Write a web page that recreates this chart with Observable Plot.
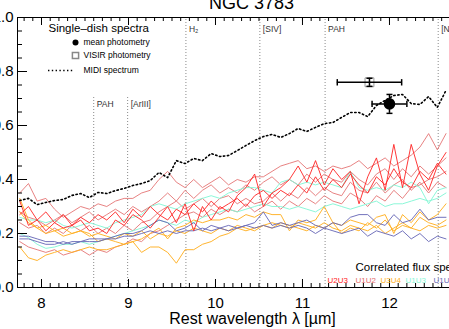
<!DOCTYPE html>
<html><head><meta charset="utf-8">
<script src="https://cdn.jsdelivr.net/npm/d3@7"></script>
<script src="https://cdn.jsdelivr.net/npm/@observablehq/plot@0.6"></script>
<style>html,body{margin:0;padding:0;background:#fff;overflow:hidden}</style>
</head><body><div id="chart"></div>
<script>
// ---- data ----
const wl = [7.75,7.85,7.95,8.05,8.15,8.25,8.35,8.45,8.55,8.65,8.75,8.85,8.95,9.05,9.15,9.25,9.35,9.45,9.55,9.65,9.75,9.85,9.95,10.05,10.15,10.25,10.35,10.45,10.55,10.65,10.75,10.85,10.95,11.05,11.15,11.25,11.35,11.45,11.55,11.65,11.75,11.85,11.95,12.05,12.15,12.25,12.35,12.45,12.55,12.65];

const midi = [0.322,0.330,0.307,0.315,0.322,0.326,0.341,0.348,0.333,0.352,0.348,0.359,0.367,0.378,0.385,0.396,0.426,0.407,0.470,0.459,0.478,0.470,0.496,0.485,0.489,0.507,0.526,0.544,0.559,0.567,0.556,0.570,0.589,0.578,0.593,0.607,0.611,0.630,0.648,0.648,0.633,0.674,0.693,0.711,0.715,0.681,0.678,0.707,0.667,0.730];

const u2u3_a = [0.32,0.23,0.25,0.21,0.24,0.22,0.23,0.25,0.21,0.22,0.20,0.25,0.23,0.27,0.25,0.22,0.26,0.30,0.24,0.31,0.21,0.30,0.25,0.30,0.28,0.34,0.37,0.42,0.30,0.35,0.37,0.40,0.45,0.39,0.47,0.38,0.44,0.40,0.43,0.31,0.41,0.48,0.36,0.53,0.37,0.53,0.42,0.36,0.45,0.50];
const u2u3_b = [0.27,0.30,0.25,0.28,0.24,0.27,0.23,0.26,0.24,0.27,0.25,0.28,0.24,0.29,0.26,0.30,0.27,0.25,0.29,0.27,0.31,0.28,0.32,0.29,0.31,0.33,0.30,0.34,0.36,0.33,0.36,0.34,0.38,0.35,0.41,0.36,0.40,0.37,0.42,0.38,0.35,0.41,0.38,0.44,0.39,0.37,0.43,0.40,0.46,0.42];

const u1u2_a = [0.35,0.385,0.32,0.33,0.29,0.26,0.28,0.30,0.29,0.31,0.30,0.32,0.33,0.33,0.35,0.36,0.40,0.43,0.39,0.37,0.40,0.37,0.39,0.41,0.38,0.40,0.39,0.41,0.41,0.43,0.45,0.46,0.47,0.44,0.45,0.43,0.45,0.44,0.45,0.47,0.44,0.46,0.48,0.45,0.47,0.49,0.52,0.57,0.51,0.57];
const u1u2_b = [0.28,0.26,0.25,0.23,0.25,0.27,0.24,0.26,0.28,0.25,0.27,0.29,0.27,0.30,0.28,0.30,0.32,0.35,0.32,0.36,0.33,0.36,0.38,0.35,0.37,0.35,0.38,0.36,0.39,0.41,0.38,0.40,0.38,0.42,0.39,0.42,0.40,0.39,0.43,0.40,0.38,0.42,0.44,0.40,0.44,0.41,0.45,0.42,0.45,0.48];
const u1u2_c = [0.24,0.22,0.23,0.20,0.22,0.20,0.23,0.21,0.23,0.20,0.22,0.20,0.23,0.21,0.24,0.25,0.28,0.30,0.32,0.29,0.31,0.33,0.30,0.33,0.34,0.31,0.33,0.31,0.32,0.35,0.32,0.35,0.33,0.37,0.34,0.37,0.35,0.34,0.39,0.36,0.35,0.39,0.35,0.38,0.40,0.36,0.39,0.35,0.39,0.37];
const u1u2_d = [0.17,0.15,0.14,0.13,0.14,0.12,0.13,0.14,0.12,0.14,0.13,0.15,0.16,0.18,0.17,0.20,0.21,0.23,0.25,0.27,0.28,0.26,0.29,0.27,0.29,0.28,0.31,0.28,0.30,0.32,0.29,0.32,0.30,0.33,0.31,0.34,0.32,0.31,0.35,0.33,0.30,0.34,0.32,0.36,0.33,0.37,0.38,0.40,0.41,0.43];

const u3u4_a = [0.15,0.11,0.10,0.12,0.13,0.14,0.13,0.14,0.15,0.14,0.14,0.15,0.16,0.17,0.18,0.20,0.22,0.18,0.22,0.23,0.25,0.24,0.25,0.25,0.26,0.25,0.27,0.26,0.28,0.27,0.27,0.21,0.25,0.24,0.25,0.30,0.24,0.23,0.25,0.24,0.23,0.26,0.27,0.20,0.27,0.24,0.28,0.25,0.27,0.31];
const u3u4_b = [0.28,0.24,0.22,0.20,0.21,0.19,0.20,0.21,0.20,0.17,0.18,0.17,0.16,0.17,0.13,0.15,0.15,0.13,0.09,0.14,0.14,0.16,0.17,0.19,0.20,0.22,0.21,0.22,0.23,0.24,0.23,0.22,0.24,0.23,0.22,0.24,0.22,0.21,0.23,0.22,0.21,0.23,0.20,0.22,0.24,0.22,0.21,0.23,0.22,0.23];
const u3u4_c = [0.33,0.25,0.22,0.23,0.21,0.22,0.20,0.21,0.19,0.20,0.19,0.18,0.20,0.19,0.21,0.18,0.20,0.19,0.21,0.20,0.22,0.21,0.20,0.22,0.21,0.23,0.22,0.21,0.23,0.22,0.24,0.23,0.22,0.21,0.23,0.22,0.24,0.20,0.22,0.21,0.24,0.22,0.25,0.21,0.23,0.22,0.26,0.24,0.23,0.25];

const u1u3_a = [0.26,0.25,0.25,0.24,0.25,0.23,0.22,0.23,0.24,0.23,0.22,0.24,0.25,0.26,0.27,0.30,0.31,0.30,0.29,0.31,0.32,0.33,0.34,0.33,0.35,0.36,0.37,0.37,0.36,0.35,0.39,0.40,0.38,0.39,0.38,0.39,0.38,0.37,0.43,0.37,0.36,0.37,0.36,0.38,0.37,0.39,0.37,0.31,0.36,0.37];
const u1u3_b = [0.20,0.185,0.16,0.145,0.15,0.16,0.16,0.17,0.16,0.17,0.18,0.19,0.20,0.21,0.22,0.23,0.25,0.24,0.23,0.25,0.24,0.26,0.27,0.28,0.29,0.28,0.29,0.30,0.31,0.30,0.30,0.29,0.30,0.29,0.28,0.30,0.31,0.30,0.29,0.30,0.31,0.32,0.30,0.31,0.31,0.32,0.33,0.32,0.33,0.35];

const u1u4_a = [0.19,0.19,0.18,0.17,0.17,0.16,0.17,0.17,0.18,0.18,0.18,0.19,0.20,0.20,0.21,0.23,0.25,0.24,0.21,0.22,0.24,0.21,0.23,0.22,0.23,0.22,0.23,0.24,0.28,0.23,0.24,0.23,0.24,0.25,0.23,0.22,0.24,0.23,0.26,0.27,0.27,0.24,0.23,0.27,0.24,0.25,0.29,0.25,0.26,0.26];
const u1u4_b = [0.18,0.18,0.17,0.16,0.16,0.17,0.16,0.17,0.17,0.17,0.18,0.18,0.19,0.19,0.20,0.21,0.20,0.21,0.20,0.21,0.21,0.22,0.21,0.22,0.21,0.22,0.23,0.22,0.23,0.22,0.23,0.22,0.23,0.22,0.20,0.22,0.21,0.20,0.21,0.22,0.19,0.21,0.20,0.19,0.21,0.18,0.20,0.17,0.19,0.18];

const baselines = ["U2U3","U1U2","U3U4","U1U3","U1U4"];
const baselineColors = ["#ff2424","#e36c6c","#ffb024","#86f7d6","#6b6bb8"];

const photNames = ["mean photometry","VISIR photometry"];
const photWl = [12.0, 11.77];
const photWlLo = [11.8, 11.40];
const photWlHi = [12.2, 12.14];
const photFlux = [0.68, 0.76];
const photErr = [0.035, 0.015];

const featureNames = ["PAH","[ArIII]","H₂","[SIV]","PAH","[NeII]"];
const featureWl = [8.6, 8.99, 9.66, 10.51, 11.26, 12.56];
const featureTop = [0.71, 0.71, 1.0, 1.0, 1.0, 1.0];
const featureLabelY = [0.68, 0.68, 0.958, 0.958, 0.958, 0.958];

const xTicks = [8, 9, 10, 11, 12];
const yTicks = [0.0, 0.2, 0.4, 0.6, 0.8, 1.0];

// ---- build ----
const W = 449, H = 329, mT = 17, mB = 42, mL = 17, mR = 0;
const pw = W - mL - mR, ph = H - mT - mB;
const xDomain = [7.724, 12.69];
const yDomain = [0, 1.0];
const xMinor = d3.range(7.8, 12.7, 0.1).map(d => +d.toFixed(2));
const yMinor = d3.range(0, 1.001, 0.05).map(d => +d.toFixed(2));

const series = [
  ["U1U2", u1u2_a], ["U1U2", u1u2_b], ["U1U2", u1u2_c], ["U1U2", u1u2_d],
  ["U1U3", u1u3_a], ["U1U3", u1u3_b],
  ["U3U4", u3u4_a], ["U3U4", u3u4_b], ["U3U4", u3u4_c],
  ["U1U4", u1u4_a], ["U1U4", u1u4_b],
  ["U2U3", u2u3_b], ["U2U3", u2u3_a]
];
const colorOf = b => baselineColors[baselines.indexOf(b)];
const opacityOf = b => b === "U1U2" ? 0.85 : (b === "U2U3" ? 0.9 : 0.95);

const lineMarks = series.map(([b, vals]) =>
  Plot.line(wl.map((w, i) => ({wl: w, flux: vals[i]})), {
    x: "wl", y: "flux", stroke: colorOf(b), strokeOpacity: opacityOf(b), strokeWidth: 1
  }));

const midiRows = wl.map((w, i) => ({wl: w, flux: midi[i]}));
const phot = photNames.map((n, i) => ({name: n, wl: photWl[i], lo: photWlLo[i], hi: photWlHi[i], flux: photFlux[i], err: photErr[i]}));
const features = featureNames.map((n, i) => ({name: n, wl: featureWl[i], top: featureTop[i], ly: featureLabelY[i]}));

const capV = {draw(ctx, size) { const r = Math.sqrt(size / Math.PI); ctx.moveTo(0, -r); ctx.lineTo(0, r); }};
const capH = {draw(ctx, size) { const r = Math.sqrt(size / Math.PI); ctx.moveTo(-r, 0); ctx.lineTo(r, 0); }};

const font = "'Liberation Sans', Arial, Helvetica, sans-serif";
const px2x = px => xDomain[0] + (px - mL) / pw * (xDomain[1] - xDomain[0]);
const px2y = py => yDomain[1] - (py - mT) / ph * (yDomain[1] - yDomain[0]);

const chart = Plot.plot({
  width: W, height: H,
  marginTop: mT, marginBottom: mB, marginLeft: mL, marginRight: mR,
  style: {fontFamily: font, fontSize: "15px", background: "#fff", color: "#000"},
  x: {domain: xDomain, ticks: xTicks, tickSize: 0, tickPadding: 10, tickFormat: d3.format("d"), label: null},
  y: {domain: yDomain, ticks: yTicks, tickSize: 0, tickPadding: 4, tickFormat: d3.format(".1f"), label: null},
  marks: [
    // feature lines
    Plot.ruleX(features, {x: "wl", y1: 0, y2: "top", stroke: "#8a8a8a", strokeWidth: 1, strokeDasharray: "1,2"}),
    Plot.text(features, {x: "wl", y: "ly", text: "name", dx: 3, textAnchor: "start", fontSize: 8.5, fill: "#333"}),
    // correlated flux spectra
    ...lineMarks,
    // MIDI spectrum
    Plot.line(midiRows, {x: "wl", y: "flux", stroke: "#000", strokeWidth: 1.6, strokeDasharray: "1.4,2.6"}),
    // VISIR square
    Plot.dot(phot.slice(1), {x: "wl", y: "flux", symbol: "square", r: 5, stroke: "#999", fill: "none", strokeWidth: 1}),
    // error bars
    Plot.ruleY(phot, {y: "flux", x1: "lo", x2: "hi", stroke: "#000", strokeWidth: 1.5}),
    Plot.ruleX(phot, {x: "wl", y1: d => d.flux - d.err, y2: d => d.flux + d.err, stroke: "#000", strokeWidth: 1.5}),
    Plot.dot(phot.flatMap(d => [{x: d.lo, y: d.flux}, {x: d.hi, y: d.flux}]), {x: "x", y: "y", symbol: capV, r: 3.2, stroke: "#000", strokeWidth: 1.5, fill: "none"}),
    Plot.dot(phot.flatMap(d => [{x: d.wl, y: d.flux - d.err}, {x: d.wl, y: d.flux + d.err}]), {x: "x", y: "y", symbol: capH, r: 3, stroke: "#000", strokeWidth: 1.5, fill: "none"}),
    // mean photometry filled circle
    Plot.dot(phot.slice(0, 1), {x: "wl", y: "flux", r: 5.8, fill: "#000"}),
    // axes frame
    Plot.ruleY([yDomain[0], yDomain[1]], {stroke: "#000", strokeWidth: 1}),
    Plot.ruleX([xDomain[0]], {stroke: "#000", strokeWidth: 1}),
    // ticks (inward)
    Plot.tickX(xMinor, {x: d => d, insetTop: ph - 4, stroke: "#000"}),
    Plot.tickX(xMinor, {x: d => d, insetBottom: ph - 4, stroke: "#000"}),
    Plot.tickX(xTicks, {x: d => d, insetTop: ph - 8, stroke: "#000"}),
    Plot.tickX(xTicks, {x: d => d, insetBottom: ph - 8, stroke: "#000"}),
    Plot.tickY(yMinor, {y: d => d, insetRight: pw - 5, stroke: "#000"}),
    Plot.tickY(yTicks, {y: d => d, insetRight: pw - 10, stroke: "#000"}),
    // title & axis label
    Plot.text(["NGC 3783"], {x: px2x(251), y: yDomain[1], dy: -14, fontSize: 18, text: d => d, lineAnchor: "middle"}),
    Plot.text(["Rest wavelength λ [µm]"], {x: px2x(252), y: yDomain[0], dy: 31, fontSize: 16, text: d => d, lineAnchor: "middle"}),
    // legend: single-dish
    Plot.text(["Single–dish spectra"], {x: px2x(48), y: px2y(28), text: d => d, textAnchor: "start", fontSize: 11.5}),
    Plot.dot([0], {x: px2x(75), y: px2y(42), r: 3, fill: "#000"}),
    Plot.dot([0], {x: px2x(75), y: px2y(55), r: 3.5, symbol: "square", stroke: "#888", fill: "none"}),
    Plot.ruleY([px2y(70)], {x1: px2x(48), x2: px2x(73), stroke: "#000", strokeWidth: 1.4, strokeDasharray: "1.4,2.4"}),
    Plot.text(["mean photometry", "VISIR photometry", "MIDI spectrum"], {x: px2x(83), y: (d, i) => px2y([42, 55, 70][i]), text: d => d, textAnchor: "start", fontSize: 8.5}),
    // legend: correlated flux
    Plot.text(["Correlated flux spectra"], {x: px2x(355), y: px2y(267), text: d => d, textAnchor: "start", fontSize: 11.5}),
    Plot.text(baselines, {x: (d, i) => px2x([327, 355, 380, 405, 433][i]), y: px2y(280), text: d => d, textAnchor: "start", fontSize: 8, fill: (d, i) => baselineColors[i]})
  ]
});
document.getElementById("chart").appendChild(chart);
</script>
</body></html>
